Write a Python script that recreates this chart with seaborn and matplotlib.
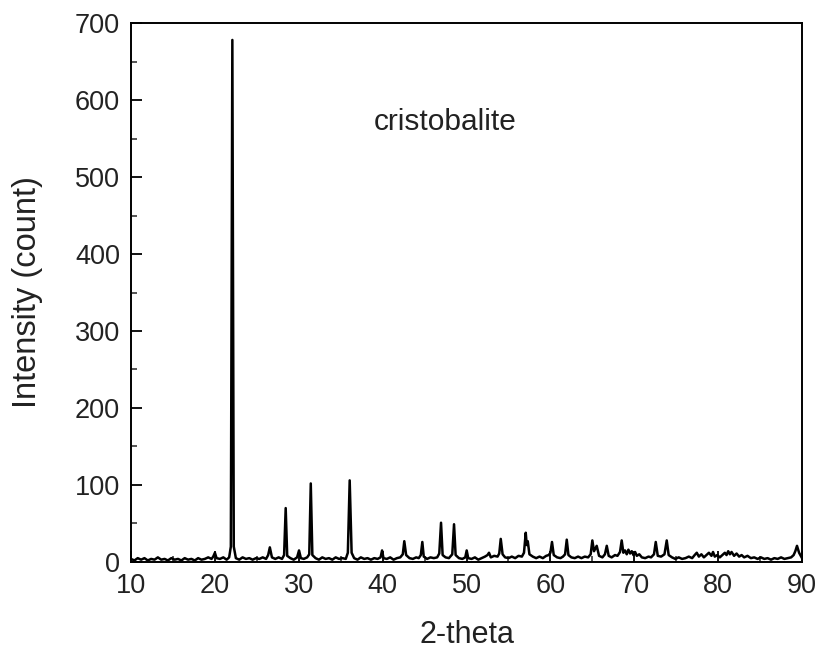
# XRD pattern - cristobalite
import numpy as np
import pandas as pd
import seaborn as sns
import matplotlib.pyplot as plt
from matplotlib.ticker import MultipleLocator

# vertices of the diffraction trace (2-theta, count)
two_theta = [
    10.0, 10.4, 10.8, 11.2, 11.6, 12.0, 12.4, 12.8, 13.2, 13.6,
    14.0, 14.4, 14.8, 15.2, 15.6, 16.0, 16.4, 16.8, 17.2, 17.6,
    18.0, 18.4, 18.8, 19.2, 19.6, 19.8, 20.0, 20.2, 20.6, 21.0,
    21.4, 21.7, 21.9, 22.08, 22.25, 22.5, 22.9, 23.3, 23.7, 24.1,
    24.5, 24.9, 25.3, 25.7, 26.1, 26.35, 26.55, 26.8, 27.2, 27.6,
    28.0, 28.25, 28.44, 28.62, 29.0, 29.4, 29.8, 30.03, 30.25, 30.6,
    31.0, 31.25, 31.43, 31.62, 32.0, 32.4, 32.8, 33.2, 33.6, 34.0,
    34.4, 34.8, 35.2, 35.6, 35.85, 36.07, 36.3, 36.6, 37.0, 37.4,
    37.8, 38.2, 38.6, 39.0, 39.4, 39.75, 39.93, 40.1, 40.5, 40.9,
    41.3, 41.7, 42.1, 42.4, 42.58, 42.8, 43.2, 43.6, 44.0, 44.3,
    44.55, 44.73, 44.9, 45.3, 45.7, 46.1, 46.5, 46.75, 46.96, 47.15,
    47.5, 47.9, 48.3, 48.51, 48.7, 49.1, 49.5, 49.85, 50.02, 50.2,
    50.6, 51.0, 51.4, 51.8, 52.2, 52.5, 52.68, 52.9, 53.3, 53.7,
    53.9, 54.08, 54.3, 54.6, 55.0, 55.4, 55.8, 56.2, 56.6, 56.85,
    57.06, 57.18, 57.3, 57.5, 57.9, 58.3, 58.7, 59.1, 59.5, 59.8,
    60.0, 60.19, 60.4, 60.8, 61.2, 61.5, 61.75, 61.95, 62.15, 62.5,
    62.9, 63.3, 63.7, 64.1, 64.5, 64.8, 65.0, 65.2, 65.52, 65.8,
    66.2, 66.5, 66.72, 66.95, 67.3, 67.7, 68.0, 68.3, 68.5, 68.7,
    68.9, 69.1, 69.3, 69.5, 69.7, 69.9, 70.1, 70.3, 70.6, 70.9,
    71.3, 71.7, 72.0, 72.35, 72.56, 72.8, 73.2, 73.6, 73.87, 74.1,
    74.5, 74.9, 75.3, 75.7, 76.1, 76.5, 76.9, 77.2, 77.45, 77.7,
    78.0, 78.3, 78.6, 78.9, 79.2, 79.39, 79.6, 79.9, 80.2, 80.5,
    80.8, 81.0, 81.2, 81.4, 81.6, 81.9, 82.2, 82.5, 82.8, 83.1,
    83.5, 83.9, 84.3, 84.7, 85.1, 85.5, 85.9, 86.3, 86.7, 87.1,
    87.5, 87.9, 88.3, 88.7, 89.0, 89.2, 89.4, 89.65, 90.0,
]
intensity = [
    4, 2, 5, 3, 5, 2, 4, 3, 6, 3,
    4, 2, 5, 3, 4, 2, 5, 3, 4, 2,
    5, 3, 4, 6, 4, 7, 12, 5, 4, 6,
    3, 6, 20, 678, 20, 5, 3, 6, 4, 5,
    3, 5, 4, 6, 4, 9, 19, 6, 4, 6,
    4, 9, 70, 8, 5, 3, 6, 15, 5, 4,
    6, 10, 102, 9, 5, 3, 6, 4, 5, 3,
    6, 4, 5, 4, 12, 106, 12, 5, 3, 6,
    4, 5, 3, 5, 4, 6, 15, 5, 4, 6,
    3, 5, 6, 10, 27, 9, 5, 4, 6, 5,
    9, 26, 7, 4, 6, 5, 6, 11, 51, 9,
    6, 5, 10, 49, 9, 5, 4, 6, 15, 5,
    4, 6, 3, 5, 7, 9, 12, 6, 8, 7,
    11, 30, 10, 6, 5, 7, 5, 8, 7, 12,
    38, 22, 27, 10, 7, 5, 7, 5, 8, 9,
    12, 26, 9, 6, 5, 7, 10, 29, 9, 6,
    5, 7, 5, 7, 6, 10, 28, 14, 21, 8,
    6, 10, 21, 8, 6, 9, 8, 13, 28, 12,
    15, 10, 16, 11, 14, 9, 13, 8, 10, 6,
    5, 7, 6, 10, 26, 8, 7, 10, 28, 9,
    6, 4, 6, 4, 5, 7, 5, 9, 12, 7,
    10, 6, 9, 12, 8, 13, 7, 9, 6, 9,
    12, 9, 14, 10, 13, 8, 11, 7, 9, 6,
    8, 5, 6, 4, 6, 4, 5, 3, 5, 4,
    6, 4, 5, 6, 9, 14, 21, 12, 5,
]

df = pd.DataFrame({"2-theta": two_theta, "Intensity": intensity})

sns.set_style("ticks")
plt.rcParams['font.family'] = ['Liberation Sans', 'DejaVu Sans']

fig = plt.figure(figsize=(8.22, 6.5), dpi=100)
ax = fig.add_axes([0.1594, 0.1354, 0.8163, 0.8292])

sns.lineplot(data=df, x="2-theta", y="Intensity", color="black",
             linewidth=1.8, estimator=None, sort=False, ax=ax)

ax.set_xlim(10, 90)
ax.set_ylim(0, 700)
ax.xaxis.set_major_locator(MultipleLocator(10))
ax.xaxis.set_minor_locator(MultipleLocator(5))
ax.yaxis.set_major_locator(MultipleLocator(100))
ax.yaxis.set_minor_locator(MultipleLocator(50))
ax.tick_params(which="major", direction="in", length=8, width=1.3, labelsize=19.5,
               colors="black", pad=8)
ax.tick_params(which="minor", direction="in", length=4, width=1.1)
for lab in ax.get_xticklabels() + ax.get_yticklabels():
    lab.set_color("#222222")

for s in ax.spines.values():
    s.set_visible(True)
    s.set_linewidth(1.4)
    s.set_color("black")

ax.set_xlabel("2-theta", fontsize=22, labelpad=15, color="#222222")
ax.set_ylabel("Intensity (count)", fontsize=23.5, labelpad=23, color="#222222")
ax.text(47.5, 572, "cristobalite", fontsize=21.5, ha="center", va="center",
        color="#222222")

fig.savefig("out.png", dpi=100)
